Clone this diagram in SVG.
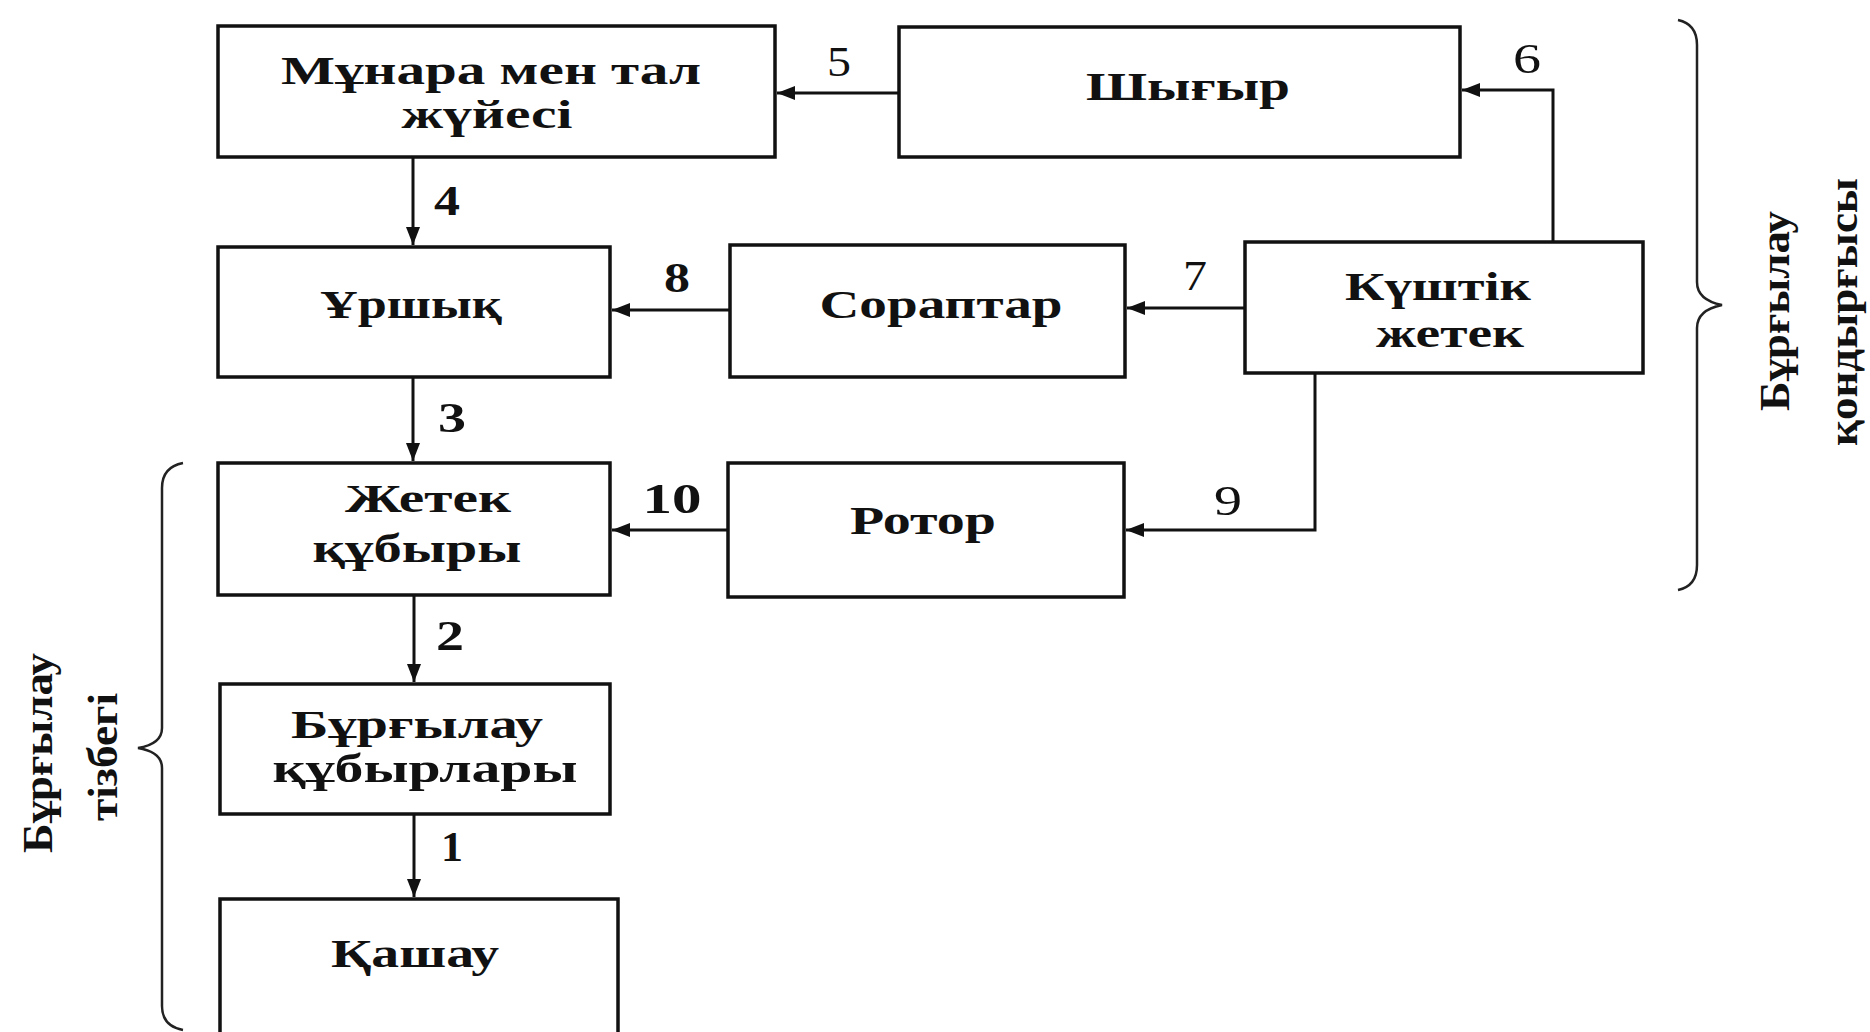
<svg xmlns="http://www.w3.org/2000/svg" width="1870" height="1032" viewBox="0 0 1870 1032">
<style>
.box{fill:#fff;stroke:#111;stroke-width:3.5}
.t{font-family:"Liberation Serif","Times New Roman",serif;font-weight:bold;font-size:40px;fill:#111;text-anchor:middle}
.n{font-family:"Liberation Serif","Times New Roman",serif;font-size:42px;fill:#111;text-anchor:middle}
.nb{font-weight:bold}
.c{fill:none;stroke:#111;stroke-width:3}
.br{fill:none;stroke:#222;stroke-width:2.5}
.rt{font-family:"Liberation Serif","Times New Roman",serif;font-weight:bold;font-size:42px;fill:#111;text-anchor:middle}
</style>
<defs>
<marker id="ah" markerUnits="userSpaceOnUse" markerWidth="18" markerHeight="14" refX="18" refY="7" orient="auto">
<path d="M0,0 L18,7 L0,14 z" fill="#111"/>
</marker>
</defs>
<rect width="1870" height="1032" fill="#fff"/>

<g id="connectors">
<path class="c" d="M899,93 H777" marker-end="url(#ah)"/>
<path class="c" d="M1553,242 V90 H1462" marker-end="url(#ah)"/>
<path class="c" d="M413,157 V245" marker-end="url(#ah)"/>
<path class="c" d="M1245,308 H1127" marker-end="url(#ah)"/>
<path class="c" d="M730,310 H612" marker-end="url(#ah)"/>
<path class="c" d="M413,377 V461" marker-end="url(#ah)"/>
<path class="c" d="M1315,373 V530 H1126" marker-end="url(#ah)"/>
<path class="c" d="M728,530 H612" marker-end="url(#ah)"/>
<path class="c" d="M414,595 V682" marker-end="url(#ah)"/>
<path class="c" d="M414,814 V897" marker-end="url(#ah)"/>
<text class="n" x="839" y="76" textLength="24" lengthAdjust="spacingAndGlyphs">5</text>
<text class="n" x="1527" y="73" textLength="28" lengthAdjust="spacingAndGlyphs">6</text>
<text class="n nb" x="447" y="215" textLength="26" lengthAdjust="spacingAndGlyphs">4</text>
<text class="n nb" x="452" y="432" textLength="28" lengthAdjust="spacingAndGlyphs">3</text>
<text class="n nb" x="450" y="650" textLength="28" lengthAdjust="spacingAndGlyphs">2</text>
<text class="n nb" x="452" y="861" textLength="22" lengthAdjust="spacingAndGlyphs">1</text>
<text class="n nb" x="677" y="292" textLength="26" lengthAdjust="spacingAndGlyphs">8</text>
<text class="n" x="1195" y="290" textLength="24" lengthAdjust="spacingAndGlyphs">7</text>
<text class="n" x="1228" y="515" textLength="28" lengthAdjust="spacingAndGlyphs">9</text>
<text class="n nb" x="672" y="513" textLength="59" lengthAdjust="spacingAndGlyphs">10</text>
</g>

<g id="n-munara">
<rect class="box" x="218" y="26" width="557" height="131"/>
<text class="t" x="491" y="84" textLength="420" lengthAdjust="spacingAndGlyphs">Мұнара мен тал</text>
<text class="t" x="487" y="128" textLength="171" lengthAdjust="spacingAndGlyphs">жүйесі</text>
</g>
<g id="n-shygyr">
<rect class="box" x="899" y="27" width="561" height="130"/>
<text class="t" x="1188" y="100" textLength="204" lengthAdjust="spacingAndGlyphs">Шығыр</text>
</g>
<g id="n-urshyk">
<rect class="box" x="218" y="247" width="392" height="130"/>
<text class="t" x="411" y="318" textLength="182" lengthAdjust="spacingAndGlyphs">Ұршық</text>
</g>
<g id="n-soraptar">
<rect class="box" x="730" y="245" width="395" height="132"/>
<text class="t" x="941" y="318" textLength="243" lengthAdjust="spacingAndGlyphs">Сораптар</text>
</g>
<g id="n-kushtik">
<rect class="box" x="1245" y="242" width="398" height="131"/>
<text class="t" x="1438" y="300" textLength="186" lengthAdjust="spacingAndGlyphs">Күштік</text>
<text class="t" x="1450" y="347" textLength="148" lengthAdjust="spacingAndGlyphs">жетек</text>
</g>
<g id="n-zhetek">
<rect class="box" x="218" y="463" width="392" height="132"/>
<text class="t" x="428" y="512" textLength="166" lengthAdjust="spacingAndGlyphs">Жетек</text>
<text class="t" x="417" y="562" textLength="209" lengthAdjust="spacingAndGlyphs">құбыры</text>
</g>
<g id="n-rotor">
<rect class="box" x="728" y="463" width="396" height="134"/>
<text class="t" x="923" y="534" textLength="146" lengthAdjust="spacingAndGlyphs">Ротор</text>
</g>
<g id="n-burgylau">
<rect class="box" x="220" y="684" width="390" height="130"/>
<text class="t" x="417" y="738" textLength="252" lengthAdjust="spacingAndGlyphs">Бұрғылау</text>
<text class="t" x="425" y="782" textLength="305" lengthAdjust="spacingAndGlyphs">құбырлары</text>
</g>
<g id="n-kashau">
<rect class="box" x="220" y="899" width="398" height="150"/>
<text class="t" x="415" y="967" textLength="168" lengthAdjust="spacingAndGlyphs">Қашау</text>
</g>

<g id="brace-right">
<path class="br" d="M1678,20 Q1697,24 1697,45 L1697,282 Q1697,300 1722,305 Q1697,310 1697,328 L1697,565 Q1697,586 1678,590"/>
<text class="rt" transform="translate(1789,311) rotate(-90)" textLength="200" lengthAdjust="spacingAndGlyphs">Бұрғылау</text>
<text class="rt" transform="translate(1857,312) rotate(-90)" textLength="268" lengthAdjust="spacingAndGlyphs">қондырғысы</text>
</g>
<g id="brace-left">
<path class="br" d="M183,463 Q162,467 162,488 L162,728 Q162,744 138,748 Q162,752 162,768 L162,1006 Q162,1026 183,1030"/>
<text class="rt" transform="translate(52,753) rotate(-90)" textLength="200" lengthAdjust="spacingAndGlyphs">Бұрғылау</text>
<text class="rt" transform="translate(117,757) rotate(-90)" textLength="128" lengthAdjust="spacingAndGlyphs">тізбегі</text>
</g>
</svg>
